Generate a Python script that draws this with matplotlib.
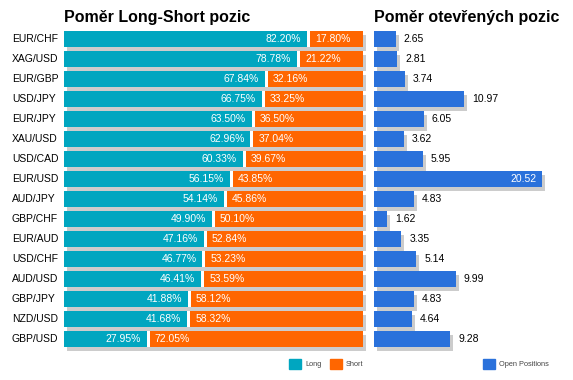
import matplotlib
matplotlib.use("Agg")
import matplotlib.pyplot as plt
from matplotlib.transforms import ScaledTranslation
from matplotlib.patches import Rectangle
import numpy as np

plt.rcParams['font.family'] = ['Liberation Sans', 'DejaVu Sans']

pairs = ["EUR/CHF", "XAG/USD", "EUR/GBP", "USD/JPY", "EUR/JPY", "XAU/USD", "USD/CAD", "EUR/USD",
         "AUD/JPY", "GBP/CHF", "EUR/AUD", "USD/CHF", "AUD/USD", "GBP/JPY", "NZD/USD", "GBP/USD"]
long_pct = [82.20, 78.78, 67.84, 66.75, 63.50, 62.96, 60.33, 56.15,
            54.14, 49.90, 47.16, 46.77, 46.41, 41.88, 41.68, 27.95]
short_pct = [17.80, 21.22, 32.16, 33.25, 36.50, 37.04, 39.67, 43.85,
             45.86, 50.10, 52.84, 53.23, 53.59, 58.12, 58.32, 72.05]
open_pos = [2.65, 2.81, 3.74, 10.97, 6.05, 3.62, 5.95, 20.52,
            4.83, 1.62, 3.35, 5.14, 9.99, 4.83, 4.64, 9.28]

TEAL = "#00A6C0"
ORANGE = "#FF6600"
BLUE = "#2A71DB"
GRAY = "#CCCCCC"

W, H = 573, 380
fig = plt.figure(figsize=(W / 100, H / 100), dpi=100)

def rect(x0, y0, w, h):
    return [x0 / W, 1 - (y0 + h) / H, w / W, h / H]

n = len(pairs)
y = np.arange(n)
gap = 1.0
bh = 0.8
shadow = ScaledTranslation(3 / 100, -4 / 100, fig.dpi_scale_trans)

# Left panel
axL = fig.add_axes(rect(64, 29, 299, 320))
axL.set_xlim(0, 100 + gap)
axL.set_ylim(n - 0.5, -0.5)
axL.axis("off")
lp = np.array(long_pct)
sp = np.array(short_pct)
axL.barh(y, lp + gap + sp, height=bh, color=GRAY, transform=axL.transData + shadow, zorder=1,
         clip_on=False)
axL.barh(y, gap, left=lp, height=bh, color="white", zorder=2)
axL.barh(y, lp, height=bh, color=TEAL, zorder=3)
axL.barh(y, sp, left=lp + gap, height=bh, color=ORANGE, zorder=3)
offL = ScaledTranslation(-6 / 100, 0, fig.dpi_scale_trans)
offR = ScaledTranslation(5 / 100, 0, fig.dpi_scale_trans)
for i in range(n):
    axL.text(lp[i], y[i], f"{lp[i]:.2f}%", color="white", fontsize=7.5, ha="right", va="center",
             transform=axL.transData + offL, zorder=4)
    axL.text(lp[i] + gap, y[i], f"{sp[i]:.2f}%", color="white", fontsize=7.5, ha="left", va="center",
             transform=axL.transData + offR, zorder=4)
    axL.text(-52 / 299 * (100 + gap), y[i], pairs[i], color="black", fontsize=7.5,
             ha="left", va="center", clip_on=False)

# Right panel
scale = 8.19
axR = fig.add_axes(rect(374, 29, 199, 320))
axR.set_xlim(0, 199 / scale)
axR.set_ylim(n - 0.5, -0.5)
axR.axis("off")
op = np.array(open_pos)
axR.barh(y, op, height=bh, color=GRAY, transform=axR.transData + shadow, zorder=1, clip_on=False)
axR.barh(y, op, height=bh, color=BLUE, zorder=3)
offO = ScaledTranslation(8 / 100, 0, fig.dpi_scale_trans)
offI = ScaledTranslation(-5 / 100, 0, fig.dpi_scale_trans)
for i in range(n):
    if op[i] > 15:
        axR.text(op[i], y[i], f"{op[i]:.2f}", color="white", fontsize=7.5, ha="right", va="center",
                 transform=axR.transData + offI, zorder=4)
    else:
        axR.text(op[i], y[i], f"{op[i]:.2f}", color="black", fontsize=7.5, ha="left", va="center",
                 transform=axR.transData + offO, zorder=4)

# Overlay for titles and legend
ov = fig.add_axes([0, 0, 1, 1], zorder=-1)
ov.set_xlim(0, W)
ov.set_ylim(H, 0)
ov.axis("off")
ov.text(64, 22, "Poměr Long-Short pozic", fontsize=11.5, fontweight="bold", ha="left", va="baseline")
ov.text(374, 22, "Poměr otevřených pozic", fontsize=11.5, fontweight="bold", ha="left", va="baseline")

legend_items = [(289, TEAL, "Long"), (330, ORANGE, "Short"), (483, BLUE, "Open Positions")]
for x0, c, lab in legend_items:
    ov.add_patch(Rectangle((x0, 359), 12, 10, color=c))
    ov.text(x0 + 16, 364.5, lab, fontsize=5.3, color="#444444", ha="left", va="center")

fig.savefig("out.png", dpi=100)
